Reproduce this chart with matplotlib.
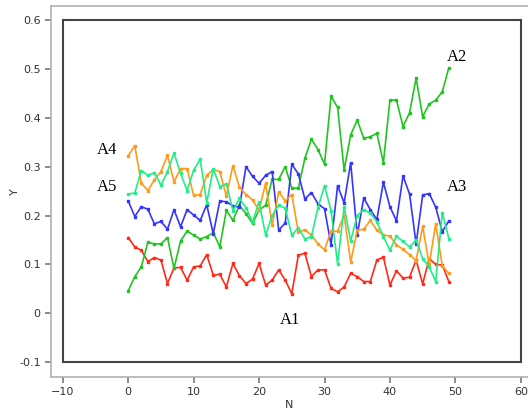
import numpy as np
import matplotlib.pyplot as plt
from matplotlib.patches import Rectangle

n = np.arange(50)

a1 = [0.155, 0.136, 0.129, 0.106, 0.114, 0.109, 0.061, 0.093, 0.094, 0.068,
      0.095, 0.097, 0.120, 0.078, 0.080, 0.054, 0.102, 0.077, 0.061, 0.070,
      0.102, 0.058, 0.068, 0.089, 0.068, 0.040, 0.119, 0.123, 0.075, 0.089,
      0.089, 0.051, 0.044, 0.054, 0.082, 0.075, 0.065, 0.065, 0.109, 0.115,
      0.058, 0.087, 0.072, 0.074, 0.109, 0.060, 0.112, 0.100, 0.099, 0.065]
a2 = [0.046, 0.075, 0.095, 0.145, 0.142, 0.142, 0.155, 0.092, 0.148, 0.168,
      0.160, 0.152, 0.157, 0.165, 0.136, 0.211, 0.190, 0.221, 0.204, 0.184,
      0.211, 0.221, 0.274, 0.274, 0.300, 0.256, 0.256, 0.317, 0.356, 0.335,
      0.305, 0.444, 0.421, 0.293, 0.365, 0.395, 0.358, 0.361, 0.368, 0.308,
      0.436, 0.436, 0.382, 0.410, 0.481, 0.402, 0.428, 0.436, 0.453, 0.502]
a3 = [0.230, 0.198, 0.218, 0.213, 0.183, 0.188, 0.172, 0.212, 0.177, 0.212,
      0.201, 0.190, 0.222, 0.163, 0.230, 0.228, 0.220, 0.217, 0.300, 0.280,
      0.266, 0.282, 0.290, 0.170, 0.185, 0.305, 0.285, 0.234, 0.247, 0.224,
      0.214, 0.140, 0.261, 0.226, 0.308, 0.160, 0.236, 0.212, 0.192, 0.268,
      0.218, 0.189, 0.281, 0.244, 0.142, 0.242, 0.245, 0.217, 0.167, 0.189]
a4 = [0.322, 0.343, 0.266, 0.251, 0.273, 0.290, 0.323, 0.269, 0.296, 0.296,
      0.241, 0.243, 0.282, 0.294, 0.290, 0.240, 0.302, 0.258, 0.243, 0.232,
      0.211, 0.266, 0.180, 0.248, 0.230, 0.243, 0.166, 0.171, 0.160, 0.142,
      0.130, 0.168, 0.168, 0.201, 0.105, 0.170, 0.172, 0.190, 0.170, 0.160,
      0.158, 0.140, 0.131, 0.120, 0.108, 0.178, 0.100, 0.183, 0.097, 0.082]
a5 = [0.244, 0.246, 0.292, 0.282, 0.288, 0.262, 0.290, 0.328, 0.286, 0.251,
      0.293, 0.315, 0.226, 0.296, 0.259, 0.265, 0.210, 0.235, 0.216, 0.187,
      0.228, 0.160, 0.200, 0.221, 0.215, 0.160, 0.175, 0.152, 0.157, 0.216,
      0.261, 0.210, 0.101, 0.218, 0.148, 0.200, 0.212, 0.205, 0.187, 0.157,
      0.129, 0.158, 0.147, 0.136, 0.150, 0.112, 0.095, 0.065, 0.206, 0.153]

series = [a1, a2, a3, a4, a5]
colors = ['#ff2a1a', '#22c422', '#3535ff', '#ff9a1a', '#22ee88']

fig = plt.figure(figsize=(5.28, 4.15), dpi=100)
ax = fig.add_axes([0.0966, 0.0916, 0.9034, 0.8947])

# inner black frame
ax.add_patch(Rectangle((-10, -0.1), 70, 0.7, fill=False, ec='#444444', lw=1.5, zorder=1))

for ys, c in zip(series, colors):
    ax.plot(n, ys, color=c, lw=1.2, marker='s', ms=2, zorder=3)

ax.text(-1.7, 0.334, 'A4', family='Liberation Serif', fontsize=12, ha='right', va='center')
ax.text(-1.7, 0.259, 'A5', family='Liberation Serif', fontsize=12, ha='right', va='center')
ax.text(50.2, 0.524, 'A2', family='Liberation Serif', fontsize=12, ha='center', va='center')
ax.text(50.2, 0.259, 'A3', family='Liberation Serif', fontsize=12, ha='center', va='center')
ax.text(24.8, -0.014, 'A1', family='Liberation Serif', fontsize=12, ha='center', va='center')

ax.set_xlim(-11.8, 61.1)
ax.set_ylim(-0.130, 0.629)
ax.set_xticks(np.arange(-10, 61, 10))
ax.set_yticks(np.round(np.arange(-0.1, 0.61, 0.1), 1))
ax.set_yticklabels(['-0.1', '0', '0.1', '0.2', '0.3', '0.4', '0.5', '0.6'])

for s in ['left', 'top', 'bottom']:
    ax.spines[s].set_color('#b0b0b0')
    ax.spines[s].set_linewidth(1.2)
ax.spines['right'].set_visible(False)
ax.tick_params(direction='out', length=4, width=1.2, color='#777777',
               labelsize=8, labelcolor='#333333')

ax.set_xlabel('N', fontsize=8, color='#333333', labelpad=2)
ax.set_ylabel('Y', fontsize=8, color='#333333')
ax.yaxis.set_label_coords(-0.065, 0.5)

fig.savefig('out.png', dpi=100)
